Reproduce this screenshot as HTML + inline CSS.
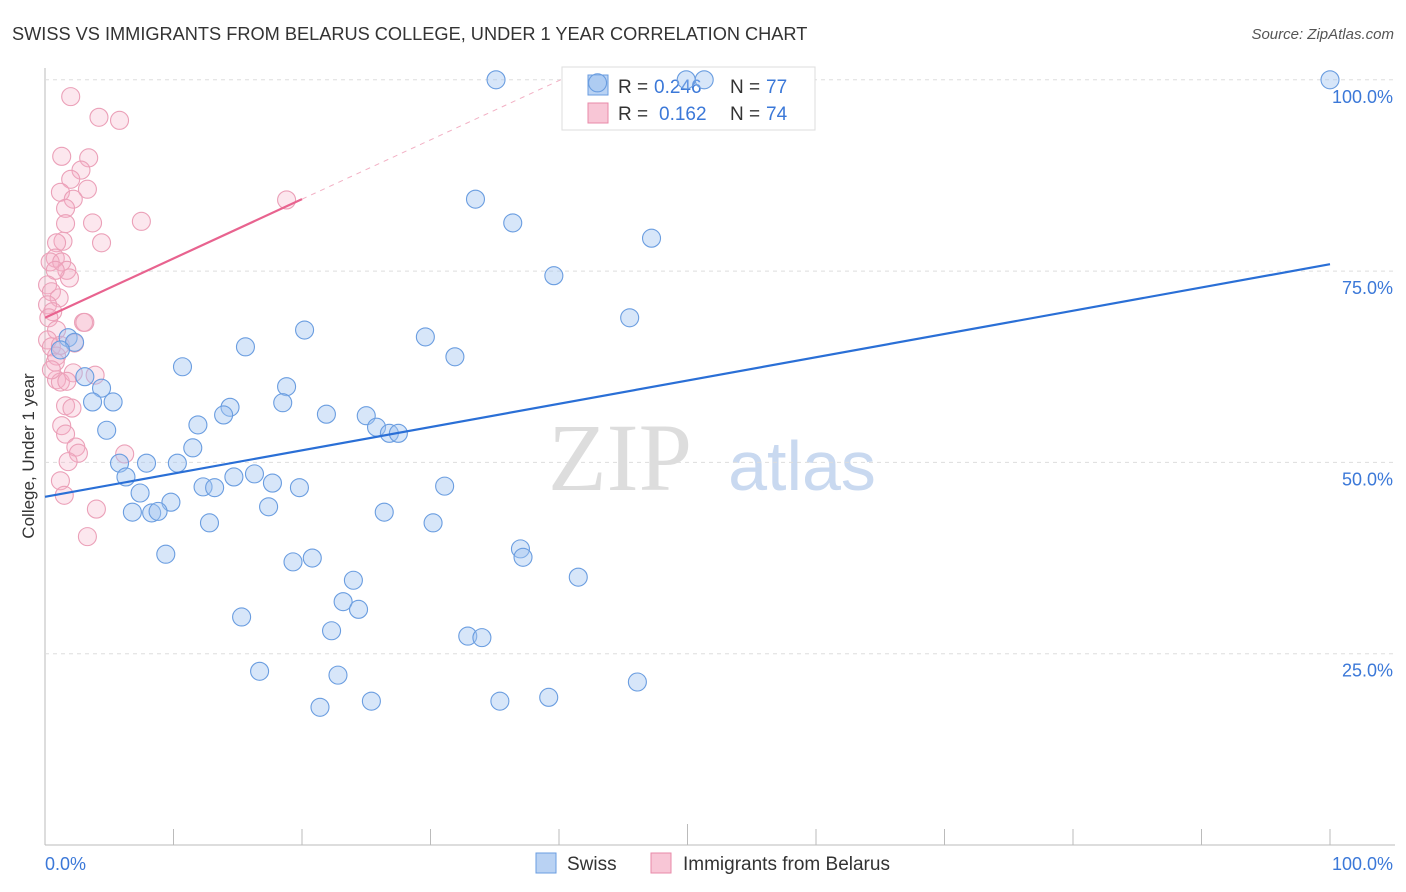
<!DOCTYPE html>
<html><head><meta charset="utf-8"><style>
body{margin:0;background:#fff;font-family:"Liberation Sans",sans-serif}
svg{display:block}
</style></head><body>
<svg id="chart" width="1406" height="892">
<text x="12" y="40" font-size="18.2" fill="#333">SWISS VS IMMIGRANTS FROM BELARUS COLLEGE, UNDER 1 YEAR CORRELATION CHART</text>
<text x="1394" y="39" font-size="15" fill="#555" text-anchor="end" font-style="italic">Source: ZipAtlas.com</text>
<text x="620" y="490" font-size="96" fill="#ddd" font-family="Liberation Serif,serif" text-anchor="middle">ZIP</text>
<text x="802" y="490" font-size="70" fill="#c9d9f0" text-anchor="middle">atlas</text>
<text transform="translate(34,456) rotate(-90)" font-size="17" fill="#333" text-anchor="middle">College, Under 1 year</text>
<g id="grid"></g>
<g>
<rect x="562" y="67" width="253" height="63" fill="#fff" stroke="#ddd"/>
<rect x="588" y="75" width="20" height="20" fill="#b9d2f3" stroke="#6a9de0"/>
<text x="618" y="93" font-size="19" fill="#333">R =</text><text x="654" y="93" font-size="19" fill="#3b78d8">0.246</text>
<text x="730" y="93" font-size="19" fill="#333">N =</text><text x="766" y="93" font-size="19" fill="#3b78d8">77</text>
<rect x="588" y="103" width="20" height="20" fill="#f8c6d6" stroke="#e88aa8"/>
<text x="618" y="120" font-size="19" fill="#333">R =</text><text x="659" y="120" font-size="19" fill="#3b78d8">0.162</text>
<text x="730" y="120" font-size="19" fill="#333">N =</text><text x="766" y="120" font-size="19" fill="#3b78d8">74</text>
</g>
<g id="marks"></g>
<g>
<rect x="536" y="853" width="20" height="20" fill="#b9d2f3" stroke="#6a9de0"/>
<text x="567" y="870" font-size="19" fill="#333">Swiss</text>
<rect x="651" y="853" width="20" height="20" fill="#f8c6d6" stroke="#e88aa8"/>
<text x="683" y="870" font-size="19" fill="#333">Immigrants from Belarus</text>
</g>
</svg>
<script>
const yTicks=[25,50,75,100];
const yTickLabels=["25.0%","50.0%","75.0%","100.0%"];
const xTicks=[0,10,20,30,40,50,60,70,80,90,100];
const swissX=[35.1,43.0,49.9,51.3,100,33.5,36.4,47.2,39.6,45.5,20.2,29.6,15.6,31.9,10.7,1.8,2.3,1.2,3.1,4.4,3.7,5.3,18.8,18.5,14.4,13.9,21.9,25.0,25.8,26.8,27.5,11.9,4.8,11.5,5.8,7.9,10.3,6.3,14.7,16.3,12.3,13.2,17.7,19.8,31.1,7.4,9.8,6.8,8.3,8.8,17.4,26.4,12.8,30.2,9.4,37.0,37.2,20.8,19.3,41.5,24.0,23.2,24.4,15.3,22.3,32.9,34.0,16.7,22.8,46.1,39.2,35.4,25.4,21.4];
const swissY=[100,99.6,100,100,100,84.4,81.3,79.3,74.4,68.9,67.3,66.4,65.1,63.8,62.5,66.3,65.7,64.7,61.2,59.7,57.9,57.9,59.9,57.8,57.2,56.2,56.3,56.1,54.6,53.8,53.8,54.9,54.2,51.9,49.9,49.9,49.9,48.1,48.1,48.5,46.8,46.7,47.3,46.7,46.9,46.0,44.8,43.5,43.4,43.6,44.2,43.5,42.1,42.1,38.0,38.7,37.6,37.5,37.0,35.0,34.6,31.8,30.8,29.8,28.0,27.3,27.1,22.7,22.2,21.3,19.3,18.8,18.8,18.0];
const belX=[2.0,4.2,5.8,1.3,3.4,2.8,2.0,1.2,3.3,2.2,1.6,1.6,3.7,7.5,18.8,1.4,0.9,4.4,0.8,0.4,1.3,1.7,1.9,0.8,0.2,0.5,1.1,0.2,0.6,0.3,3.0,3.1,0.9,0.2,0.5,2.3,0.9,0.8,0.9,1.2,2.2,3.9,1.7,1.6,2.1,1.3,1.6,2.4,2.6,1.8,6.2,1.2,1.5,4.0,3.3,0.5,1.2];
const belY=[97.8,95.1,94.7,90.0,89.8,88.2,87.0,85.3,85.7,84.4,83.2,81.2,81.3,81.5,84.3,78.9,78.7,78.7,76.7,76.2,76.2,75.1,74.1,75.1,73.2,72.3,71.5,70.6,69.7,68.9,68.3,68.3,67.3,66.0,65.1,65.6,63.9,63.1,60.8,60.5,61.7,61.4,60.6,57.4,57.1,54.8,53.7,52.0,51.2,50.1,51.1,47.6,45.7,43.9,40.3,62.1,65.3];
const swissTrend=[45.5,75.9];
const belTrend=[68.9,84.4];
const sx=v=>45+v*12.85, sy=v=>845-v*7.652;
const NS="http://www.w3.org/2000/svg";
function mk(tag,attrs,parent){const e=document.createElementNS(NS,tag);for(const k in attrs)e.setAttribute(k,attrs[k]);parent.appendChild(e);return e;}
const grid=document.getElementById('grid'), marks=document.getElementById('marks');
let ax=mk('line',{x1:45,y1:68,x2:45,y2:845,stroke:'#bbb'},grid);


let bx=mk('line',{x1:45,y1:845,x2:1395,y2:845,stroke:'#bbb'},grid);


yTicks.forEach((t,i)=>{
 const g=mk('line',{x1:45,x2:1395,y1:sy(t),y2:sy(t),stroke:'#ddd','stroke-dasharray':'4,4'},grid);
 
 
 const tx=mk('text',{x:1393,y:sy(t)+23,'font-size':18,fill:'#3b78d8','text-anchor':'end'},grid);
 tx.textContent=yTickLabels[i];
 
 
});
xTicks.forEach(t=>{
 if(t===0)return;
 const l=mk('line',{x1:sx(t),x2:sx(t),y1:t===50?824:829,y2:845,stroke:'#bbb'},grid);
 
 
});
let x0=mk('text',{x:45,y:870,'font-size':18,fill:'#3b78d8'},grid);x0.textContent='0.0%';


let x1=mk('text',{x:1393,y:870,'font-size':18,fill:'#3b78d8','text-anchor':'end'},grid);x1.textContent='100.0%';


belX.forEach((v,i)=>{
 const c=mk('circle',{cx:sx(v),cy:sy(belY[i]),r:9,fill:'rgba(245,175,198,0.3)',stroke:'#eba0b8','stroke-width':1.1},marks);
 
 
});
swissX.forEach((v,i)=>{
 const c=mk('circle',{cx:sx(v),cy:sy(swissY[i]),r:9,fill:'rgba(160,196,240,0.42)',stroke:'#6a9de0','stroke-width':1.1},marks);
 
 
});
const slope=(belTrend[1]-belTrend[0])/20;
const xEnd=(100-belTrend[0])/slope;
let pd=mk('line',{x1:sx(20),y1:sy(belTrend[1]),x2:sx(xEnd),y2:sy(100),stroke:'#f2b0c4','stroke-dasharray':'5,5','stroke-width':1},marks);


let pl=mk('line',{x1:sx(0),y1:sy(belTrend[0]),x2:sx(20),y2:sy(belTrend[1]),stroke:'#e8638f','stroke-width':2.2},marks);


let bl=mk('line',{x1:sx(0),y1:sy(swissTrend[0]),x2:sx(100),y2:sy(swissTrend[1]),stroke:'#2a6fd6','stroke-width':2.2},marks);


</script>
</body></html>
